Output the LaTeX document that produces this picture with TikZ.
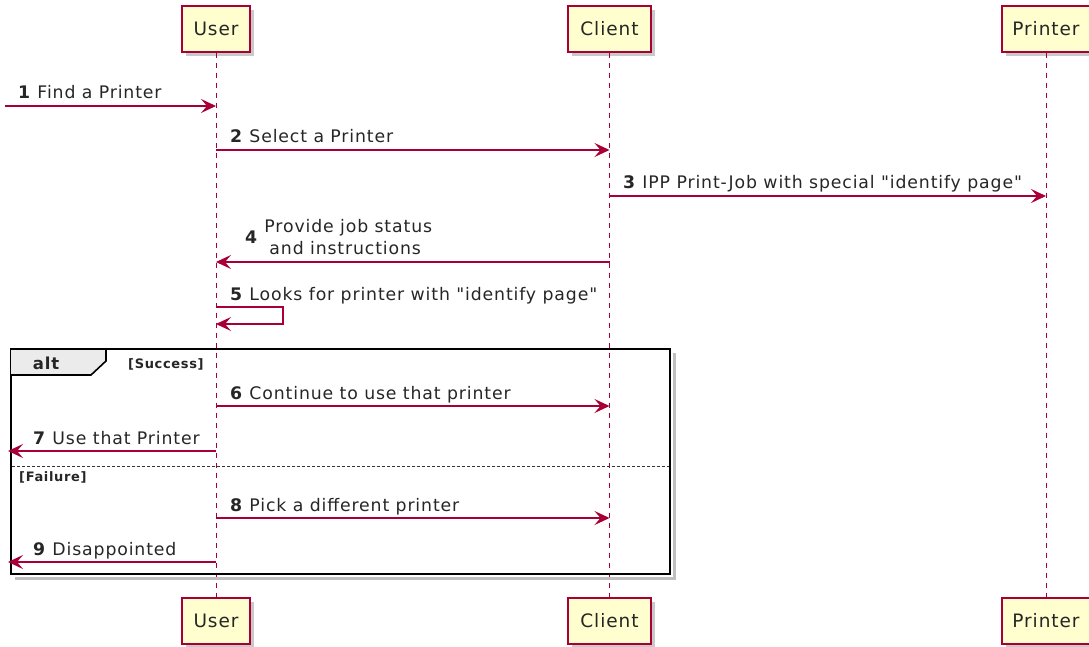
\documentclass[tikz,border=0pt]{standalone}
\usepackage{fontspec}
\setmainfont[LetterSpace=5, Ligatures=TeXOff]{DejaVu Sans}
\usetikzlibrary{arrows.meta, shadows}
\definecolor{seqred}{HTML}{A80036}
\definecolor{seqbox}{HTML}{FEFECE}

\begin{document}
\begin{tikzpicture}[x=1pt, y=-1pt,
    actor/.style={draw=seqred, fill=seqbox, line width=1.3pt, minimum height=46pt, inner sep=0pt,
        font=\fontsize{18.5}{21}\selectfont, text=black!85,
        drop shadow={shadow xshift=4pt, shadow yshift=-4pt, fill=black!30, opacity=.7}},
    life/.style={seqred, line width=0.9pt, dash pattern=on 5pt off 5pt},
    msg/.style={seqred, line width=1.2pt, -{Stealth[length=15pt, width=14pt, inset=6pt]}},
    lbl/.style={anchor=base west, inner sep=0pt, font=\fontsize{17.3}{22}\selectfont, text=black!85},
    guard/.style={anchor=base west, inner sep=0pt, font=\bfseries\fontsize{13}{14}\selectfont, text=black!85}]

    \useasboundingbox (0,0) rectangle (1089,647);

    % participants, top and bottom
    \node[actor, minimum width=68pt] (u1) at (216,29) {User};
    \node[actor, minimum width=83pt] (c1) at (609.5,29) {Client};
    \node[actor, minimum width=88pt] (p1) at (1046,29) {Printer};
    \node[actor, minimum width=68pt] (u2) at (216,621) {User};
    \node[actor, minimum width=83pt] (c2) at (609.5,621) {Client};
    \node[actor, minimum width=88pt] (p2) at (1046,621) {Printer};

    \draw[life] (u1.south) -- (u2.north);
    \draw[life] (c1.south) -- (c2.north);
    \draw[life] (p1.south) -- (p2.north);

    % alt frame
    \draw[black!25, line width=3pt] (674,353) -- (674,578) -- (15,578);
    \draw[line width=2.4pt] (11,349) rectangle (670,574);
    \draw[fill=black!8, line width=1.6pt] (11,349) -- (106,349) -- (106,361) -- (91,375) -- (11,375);
    \node[font=\bfseries\fontsize{16.5}{18}\selectfont, text=black!85] (alt) at (46,363) {alt};
    \node[guard] (ok) at (128,368) {[Success]};
    \draw[black!80, line width=0.8pt, dash pattern=on 3pt off 2pt] (12,466) -- (669,466);
    \node[guard] (ko) at (19,481) {[Failure]};

    % messages
    \draw[msg] (5,106) coordinate (m1) -- (m1 -| u1);
    \node[lbl] (l1) at (18,99) {\textbf{1} Find a Printer};

    \draw[msg] (u1 |- 0,150) -- (c1 |- 0,150);
    \node[lbl] (l2) at (230,143) {\textbf{2} Select a Printer};

    \draw[msg] (c1 |- 0,196) -- (p1 |- 0,196);
    \node[lbl] (l3) at (623,189) {\textbf{3} IPP Print-Job with special "identify page"};

    \draw[msg] (c1 |- 0,262) -- (u1 |- 0,262);
    \node[lbl, anchor=south west] (l4) at (245,261) {\textbf{4}\ \begin{tabular}{@{}l@{}}Provide job status\\\hspace*{5pt}and instructions\end{tabular}};

    \draw[msg] (u1 |- 0,307) -| (283,324) coordinate (m5) -- (m5 -| u1);
    \node[lbl] (l5) at (230,300) {\textbf{5} Looks for printer with "identify page"};

    \draw[msg] (u1 |- 0,406) -- (c1 |- 0,406);
    \node[lbl] (l6) at (230,399) {\textbf{6} Continue to use that printer};

    \draw[msg] (u1 |- 0,451) -- (8,451) coordinate (m7);
    \node[lbl] (l7) at (33,444) {\textbf{7} Use that Printer};

    \draw[msg] (u1 |- 0,518) -- (c1 |- 0,518);
    \node[lbl] (l8) at (230,511) {\textbf{8} Pick a different printer};

    \draw[msg] (u1 |- 0,562) -- (8,562) coordinate (m9);
    \node[lbl] (l9) at (33,555) {\textbf{9} Disappointed};
\end{tikzpicture}
\end{document}
